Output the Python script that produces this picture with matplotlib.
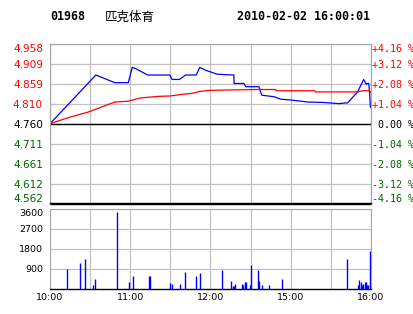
import matplotlib.pyplot as plt

# intraday minutes from 10:00 (lunch break removed: 12:30 == 14:30)
prev_close = 4.760

price_min = [0, 34.3, 48.5, 58.5, 61.5, 64, 73, 89.6, 91.3, 96.8, 101.3, 109.3,
             112, 116.3, 125, 137.5, 137.6, 145, 146.3, 156.2, 158.3, 167.5,
             172.5, 180, 192.5, 203.8, 216, 222.5, 230, 234.5, 236.5, 237,
             238.3, 239, 239.5, 240]
price = [4.760, 4.881, 4.862, 4.862, 4.900, 4.897, 4.881, 4.881, 4.870, 4.870,
         4.881, 4.881, 4.900, 4.893, 4.883, 4.881, 4.860, 4.860, 4.852, 4.852,
         4.831, 4.827, 4.821, 4.819, 4.814, 4.813, 4.810, 4.812, 4.839, 4.870,
         4.858, 4.860, 4.860, 4.835, 4.802, 4.800]

avg_min = [0, 13.5, 28.5, 48.5, 58.5, 67.5, 81, 90, 98.8, 105, 110, 111.2, 120,
           153.8, 168.8, 169, 198, 198.4, 230, 233.8, 238.7, 240]
avg_price = [4.760, 4.775, 4.789, 4.814, 4.816, 4.824, 4.828, 4.829, 4.833,
             4.835, 4.838, 4.840, 4.843, 4.845, 4.845, 4.842, 4.842, 4.839,
             4.839, 4.842, 4.842, 4.838]

vol_min = [13, 22.8, 26.5, 31.8, 34, 49.8, 58.8, 61.8, 73.8, 74.5, 89.5, 91, 97,
           100.8, 109, 112, 128.5, 135.3, 136.8, 137.5, 138.3, 143.5, 144.3,
           145.8, 146.5, 149.5, 150.3, 155.5, 156.3, 158.5, 163.8, 173.5, 222.3,
           230.5, 231.3, 232.8, 233.5, 234.3, 235.8, 236.5, 237.3, 238, 239.3,
           240]
vol = [900, 1170, 1350, 180, 450, 3480, 315, 585, 585, 585, 270, 225, 225, 750,
       585, 705, 855, 360, 150, 150, 225, 225, 180, 315, 315, 180, 1080, 855,
       360, 180, 180, 450, 1350, 180, 405, 315, 180, 225, 315, 315, 180, 180,
       1710, 555]

pct_ticks = [4.16, 3.12, 2.08, 1.04, 0.0, -1.04, -2.08, -3.12, -4.16]
price_labels = ['4.958', '4.909', '4.859', '4.810', '4.760', '4.711', '4.661',
                '4.612', '4.562']
pct_labels = ['+4.16 %', '+3.12 %', '+2.08 %', '+1.04 %', ' 0.00 %',
              '-1.04 %', '-2.08 %', '-3.12 %', '-4.16 %']
vol_ticks = [900, 1800, 2700, 3600]
time_ticks = [0, 30, 60, 90, 120, 150, 180, 210, 240]
time_labels = ['10:00', '', '11:00', '', '12:00', '', '15:00', '', '16:00']

GRID = '#c0c0c0'
EDGE = '#a8a8a8'
UP = '#ff0000'
DOWN = '#006400'

W, H = 414, 314
fig = plt.figure(figsize=(W / 100, H / 100), dpi=100)
ax = fig.add_axes([50 / W, 1 - 203.5 / H, 321 / W, 159.5 / H])
axv = fig.add_axes([50 / W, 1 - 289 / H, 321 / W, 80 / H])

ypos = [prev_close * (1 + p / 100) for p in pct_ticks]

# price panel
ax.plot(price_min, price, color='#0000ff', lw=0.9, zorder=3)
ax.plot(avg_min, avg_price, color='#ff0000', lw=0.9, zorder=3)
ax.axhline(prev_close, color='black', lw=1.0, zorder=2)
ax.set_xlim(0, 240)
ax.set_ylim(ypos[-1], ypos[0])
ax.set_xticks(time_ticks)
ax.set_xticklabels([])
ax.set_yticks(ypos)
ax.set_yticklabels(price_labels, fontsize=7.6, fontfamily='DejaVu Sans')
ax.grid(True, color=GRID, lw=0.9)
ax.tick_params(length=0, pad=5)
for i, lab in enumerate(ax.get_yticklabels()):
    c = UP if pct_ticks[i] > 0 else (DOWN if pct_ticks[i] < 0 else 'black')
    lab.set_color(c)
ax.get_yticklabels()[0].set_va('top')
ax.get_yticklabels()[-1].set_va('bottom')

ax2 = ax.twinx()
ax2.set_ylim(ypos[-1], ypos[0])
ax2.set_yticks(ypos)
ax2.set_yticklabels(pct_labels, fontsize=7.2, fontfamily='DejaVu Sans Mono')
ax2.tick_params(length=0, pad=1)
for i, lab in enumerate(ax2.get_yticklabels()):
    c = UP if pct_ticks[i] > 0 else (DOWN if pct_ticks[i] < 0 else 'black')
    lab.set_color(c)
ax2.get_yticklabels()[0].set_va('top')
ax2.get_yticklabels()[-1].set_va('bottom')

for a in (ax, ax2):
    for s in ('top', 'left', 'right'):
        a.spines[s].set_color(EDGE)
        a.spines[s].set_linewidth(0.8)
    a.spines['bottom'].set_color('black')
    a.spines['bottom'].set_linewidth(1.0)

# volume panel
axv.vlines(vol_min, 0, vol, color='#0000ff', lw=1.0, zorder=3)
axv.set_xlim(0, 240)
axv.set_ylim(0, 3600)
axv.set_yticks(vol_ticks)
axv.set_yticklabels([str(v) for v in vol_ticks], fontsize=6.8)
axv.get_yticklabels()[-1].set_va('top')
axv.set_xticks(time_ticks)
axv.set_xticklabels(time_labels, fontsize=6.8)
axv.grid(True, color=GRID, lw=0.9)
axv.tick_params(length=0, pad=5)
axv.tick_params(axis='x', pad=3)
for s in ('top', 'left', 'right'):
    axv.spines[s].set_color(EDGE)
    axv.spines[s].set_linewidth(0.8)
axv.spines['bottom'].set_color('black')
axv.spines['bottom'].set_linewidth(1.0)

# header
ty = 1 - 17 / H
fig.text(50 / W, ty, '01968', fontsize=8.4, fontweight='bold',
         fontfamily='DejaVu Sans Mono', va='center')
fig.text(105 / W, ty, '匹克体育', fontsize=9, fontfamily='Noto Sans CJK SC',
         va='center')
fig.text(237 / W, ty, '2010-02-02 16:00:01', fontsize=8.4, fontweight='bold',
         fontfamily='DejaVu Sans Mono', va='center')

fig.savefig('out.png', dpi=100)
